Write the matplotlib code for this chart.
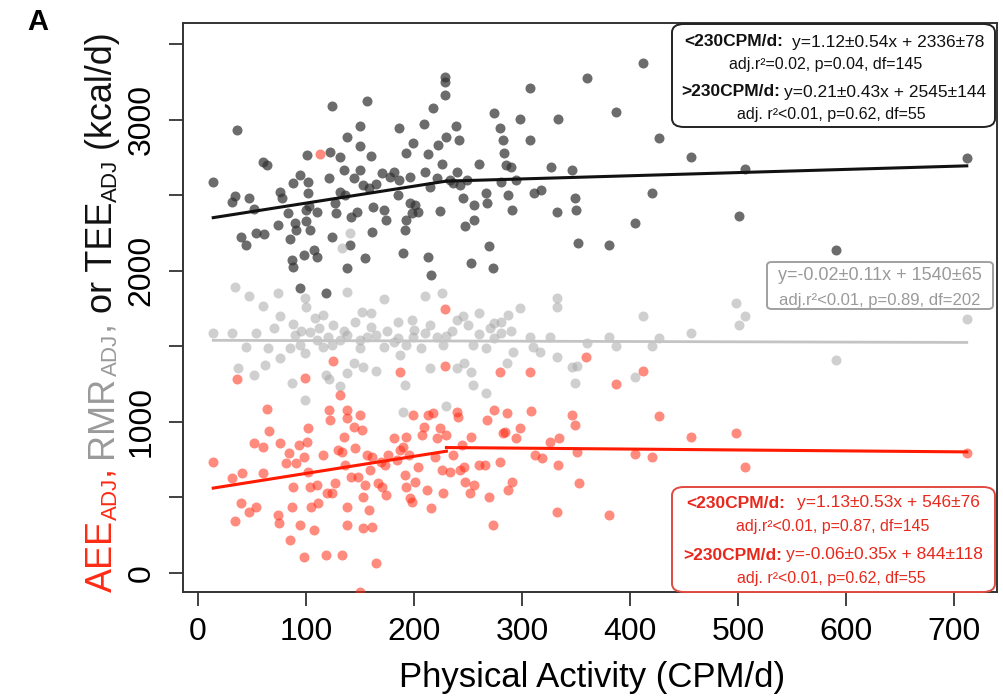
import matplotlib
matplotlib.use("Agg")
import matplotlib.pyplot as plt
from matplotlib.patches import FancyBboxPatch

plt.rcParams['font.family'] = ['Liberation Sans Narrow', 'Liberation Sans', 'DejaVu Sans']

# TEE (black), CPM/d vs kcal/d
tee_x = [14, 36, 31, 34, 47, 52, 40, 44, 54, 61, 60, 64, 76, 74, 78, 83, 85, 87, 88, 88,
         91, 90, 94, 94, 98, 100, 101, 102, 102, 103, 100, 104, 107, 110, 110, 118, 121, 124,
         124, 122, 127, 128, 131, 131, 135, 136, 138, 138, 141, 142, 144, 147, 150, 150, 150,
         153, 155, 156, 158, 160, 161, 162, 165, 170, 172, 174, 178, 181, 185, 186, 186, 190,
         192, 193, 193, 196, 196, 198, 199, 201, 204, 209, 210, 213, 213, 215, 216, 218, 221,
         222, 224, 226, 229, 229, 229, 230, 233, 236, 239, 240, 242, 243, 245, 247, 249, 253,
         256, 256, 260, 267, 268, 269, 273, 274, 280, 281, 282, 283, 285, 287, 290, 291, 294,
         298, 307, 307, 311, 318, 327, 332, 333, 346, 349, 350, 352, 360, 412, 387, 427, 457,
         507, 420, 501, 405, 381, 591, 712]
tee_y = [2586, 2932, 2453, 2497, 2484, 2407, 2226, 2171, 2252, 2244, 2722, 2700, 2524, 2303,
         2480, 2385, 2208, 2071, 2023, 2579, 2270, 2314, 2634, 1888, 2105, 2332, 2766, 2590,
         2513, 2429, 2402, 2270, 2138, 2094, 2391, 1851, 2616, 3091, 2226, 2788, 2446, 2380,
         2755, 2524, 2667, 2502, 2888, 2021, 2171, 2358, 2612, 2391, 2667, 2961, 2828, 2568,
         2083, 3126, 2546, 2760, 2259, 2424, 2574, 2645, 2402, 2336, 2623, 2656, 2502, 2601,
         2947, 2116, 2270, 2782, 2336, 2623, 2446, 2380, 2844, 2435, 2391, 2971, 2656, 2773,
         2094, 2557, 1972, 3075, 2612, 2833, 2396, 2707, 3252, 3163, 3285, 2888, 2601, 2579,
         2958, 2656, 2866, 2568, 2480, 2296, 2601, 2054, 2336, 2435, 2707, 2517, 2446, 2164,
         2016, 3047, 2943, 2590, 2866, 2777, 2700, 2502, 2689, 2402, 2601, 3002, 2866, 3207,
         2513, 2535, 2689, 2391, 3002, 2667, 2480, 2402, 2182, 3274, 3377, 3053, 2881, 2755,
         2671, 2517, 2363, 2314, 2171, 2138, 2749]

# RMR (grey)
rmr_x = [34, 47, 60, 74, 76, 99, 100, 116, 133, 141, 138, 152, 160, 172, 198, 210, 226, 240,
         250, 260, 274, 281, 287, 298, 332, 332, 14, 31, 44, 54, 65, 76, 85, 90, 94, 99, 104,
         110, 116, 124, 131, 138, 144, 150, 156, 165, 172, 181, 187, 193, 199, 206, 215, 221,
         227, 230, 240, 246, 253, 255, 267, 274, 281, 286, 292, 307, 310, 317, 326, 332, 346,
         351, 349, 37, 52, 62, 87, 99, 118, 121, 131, 138, 153, 165, 192, 230, 255, 267, 190,
         498, 507, 501, 412, 381, 387, 427, 420, 457, 591, 712, 360, 405,
         70, 88, 95, 108, 112, 125, 135, 145, 160, 175, 185, 200, 215, 235, 245, 260, 270,
         290, 120, 150, 185, 210]
rmr_y = [1895, 1833, 1767, 1851, 1701, 1818, 1763, 1707, 2149, 2248, 1862, 1730, 1718, 1811,
         1674, 1833, 1851, 1674, 1641, 1723, 1657, 1663, 1707, 1752, 1818, 1763, 1590, 1586,
         1498, 1586, 1487, 1421, 1487, 1575, 1509, 1454, 1597, 1542, 1498, 1509, 1542, 1575,
         1388, 1487, 1564, 1575, 1498, 1531, 1443, 1509, 1564, 1487, 1355, 1564, 1509, 1570,
         1355, 1388, 1332, 1509, 1487, 1553, 1586, 1388, 1465, 1564, 1498, 1465, 1564, 1432,
         1366, 1370, 1255, 1355, 1310, 1377, 1255, 1145, 1310, 1282, 1238, 1321, 1361, 1337,
         1244, 1105, 1244, 1189, 1068, 1789, 1701, 1641, 1701, 1564, 1502, 1557, 1502, 1588,
         1410, 1681, 1522, 1297,
         1620, 1650, 1600, 1690, 1620, 1640, 1600, 1660, 1630, 1600, 1660, 1610, 1640, 1600,
         1700, 1580, 1620, 1600, 1560, 1540, 1555, 1590]

# AEE (red)
aee_x = [14, 31, 41, 34, 36, 40, 47, 54, 52, 60, 60, 64, 66, 74, 75, 76, 81, 84, 85, 87,
         88, 91, 93, 94, 98, 98, 99, 101, 102, 102, 104, 105, 107, 110, 111, 116, 118, 119,
         121, 122, 124, 125, 127, 130, 131, 133, 133, 135, 136, 138, 138, 138, 138, 142, 144,
         145, 148, 150, 152, 153, 153, 155, 156, 158, 159, 161, 161, 165, 167, 169, 170, 173,
         174, 176, 181, 184, 187, 187, 190, 192, 193, 193, 195, 196, 198, 199, 201, 204, 207,
         209, 212, 213, 216, 218, 219, 221, 224, 226, 227, 229, 230, 233, 236, 240, 241, 243,
         244, 246, 247, 252, 253, 256, 260, 266, 268, 269, 273, 274, 280, 280, 282, 284, 286,
         287, 291, 294, 298, 307, 308, 312, 319, 326, 332, 333, 334, 346, 349, 351, 353, 359,
         150, 387, 412, 427, 457, 498, 507, 405, 420, 381, 591, 712, 113, 229]
aee_y = [732, 626, 660, 346, 1282, 461, 406, 439, 858, 836, 660, 1085, 942, 384, 333, 858,
         726, 792, 218, 439, 571, 726, 847, 318, 108, 770, 1288, 869, 958, 671, 571, 439, 285,
         580, 461, 781, 119, 527, 1079, 1013, 527, 1405, 593, 814, 1178, 803, 119, 902, 715,
         1079, 1024, 439, 318, 637, 968, 825, 637, 1046, 946, 505, 296, 582, 781, 417, 682,
         307, 770, 64, 593, 737, 571, 715, 516, 781, 891, 748, 1332, 814, 836, 649, 902, 571,
         781, 494, 472, 1046, 604, 704, 913, 968, 549, 1046, 428, 1057, 770, 891, 958, 682,
         527, 1370, 913, 671, 781, 1068, 1035, 682, 847, 704, 604, 527, 902, 582, 715, 715,
         1013, 505, 318, 1079, 1332, 737, 924, 930, 1061, 549, 604, 891, 958, 1332, 1072, 781,
         759, 869, 406, 715, 891, 1046, 979, 803, 593, 1432, -124, 1251, 1339, 1039, 900, 929,
         702, 788, 768, 384, 529, 794, 2773, 1745]

# piecewise fits, split at 230 CPM/d: (slope, intercept) below and above
breakpoint = 230
tee_fit = [(1.12, 2336), (0.21, 2545)]
rmr_fit = [(-0.02, 1540)]
aee_fit = [(1.13, 546), (-0.06, 844)]

W, H = 1004, 698


def fpos(px, py):
    return px / W, 1 - py / H


fig = plt.figure(figsize=(W / 100, H / 100), dpi=100)
ax = fig.add_axes([183 / W, 1 - 592 / H, (997 - 183) / W, (592 - 23) / H])

ax.scatter(tee_x, tee_y, s=52, color='#333333', alpha=0.72, linewidths=0, zorder=2)
ax.scatter(rmr_x, rmr_y, s=52, color='#a8a8a8', alpha=0.55, linewidths=0, zorder=3)
ax.scatter(aee_x, aee_y, s=52, color='#ff2a14', alpha=0.55, linewidths=0, zorder=4)


def draw_fit(xs, fit, color, lw):
    lo, hi = min(xs), max(xs)
    if len(fit) == 1:
        m, b = fit[0]
        ax.plot([lo, hi], [m * lo + b, m * hi + b], color=color, lw=lw, zorder=5)
        return
    (m1, b1), (m2, b2) = fit
    ax.plot([lo, breakpoint], [m1 * lo + b1, m1 * breakpoint + b1], color=color, lw=lw, zorder=5)
    ax.plot([breakpoint, hi], [m2 * breakpoint + b2, m2 * hi + b2], color=color, lw=lw, zorder=5)


draw_fit(tee_x, tee_fit, '#111111', 2.2)
draw_fit(rmr_x, rmr_fit, '#c4c4c4', 2.0)
draw_fit(aee_x, aee_fit, '#ff1a00', 2.2)

ax.set_xlim(-14, 740)
ax.set_ylim(-126, 3640)
ax.set_xticks(range(0, 800, 100))
ax.set_yticks(range(0, 3600, 500))
ax.set_yticklabels(['0', '', '1000', '', '2000', '', '3000', ''], rotation=90, va='center')
ax.tick_params(direction='out', length=10, width=1.3, color='#333333', labelsize=23, pad=8)
ax.tick_params(axis='y', pad=9)
for sp in ax.spines.values():
    sp.set_linewidth(1.4)
    sp.set_color('#333333')

fig.text(*fpos(592, 678), 'Physical Activity (CPM/d)', ha='center', va='center', fontsize=25)
fig.text(*fpos(38, 22), 'A', ha='center', va='center', fontsize=21, fontweight='bold',
         family=['Liberation Sans', 'DejaVu Sans'])

fig.canvas.draw()
renderer = fig.canvas.get_renderer()

# multicoloured y label, built piece by piece along the rotated baseline
pieces = [('AEE', '#ff2a14', False), ('ADJ', '#ff2a14', True), (', ', '#ff2a14', False),
          ('RMR', '#9a9a9a', False), ('ADJ', '#9a9a9a', True), (', ', '#9a9a9a', False),
          ('or TEE', '#111111', False), ('ADJ', '#111111', True), (' (kcal/d)', '#111111', False)]


def place_ylabel(size, base_x, start_y):
    cur = start_y
    made = []
    for s, c, sub in pieces:
        fs = size * 0.62 if sub else size
        x = base_x + (size * 0.2 if sub else 0)
        t = fig.text(x / W, cur / H, s, rotation=90, rotation_mode='anchor', ha='left',
                     va='baseline', color=c, fontsize=fs)
        cur += t.get_window_extent(renderer).height
        made.append(t)
    return made, cur - start_y


trial, length = place_ylabel(28, 112, H - 592)
for t in trial:
    t.remove()
place_ylabel(28 * 560 / length, 112, H - 592)


def box(x0, y0, x1, y1, ec, pad):
    p = FancyBboxPatch(fpos(x0, y1), (x1 - x0) / W, (y1 - y0) / H,
                       boxstyle=f'round,pad=0,rounding_size={pad}', transform=fig.transFigure,
                       facecolor='white', edgecolor=ec, linewidth=1.4, zorder=10)
    fig.add_artist(p)


def two_part(cx, py, bold, rest, color, size, gap=7):
    a = fig.text(0, 0, bold, ha='left', va='center', fontsize=size, fontweight='bold',
                 color=color, zorder=11)
    b = fig.text(0, 0, rest, ha='left', va='center', fontsize=size, color=color, zorder=11)
    wa = a.get_window_extent(renderer).width
    wb = b.get_window_extent(renderer).width
    x0 = cx - (wa + gap + wb) / 2
    a.set_position(fpos(x0, py))
    b.set_position(fpos(x0 + wa + gap, py))


def centered(cx, py, s, color, size):
    fig.text(*fpos(cx, py), s, ha='center', va='center', fontsize=size, color=color, zorder=11)


# TEE fit box
box(672, 24, 995, 127, '#222222', 0.012)
two_part(834, 42, '<230CPM/d:', 'y=1.12±0.54x + 2336±78', '#111111', 12.5, gap=9)
centered(826, 64, 'adj.r²=0.02, p=0.04, df=145', '#111111', 11.5)
two_part(834, 92, '>230CPM/d:', 'y=0.21±0.43x + 2545±144', '#111111', 12.5, gap=4)
centered(831, 115, 'adj. r²<0.01, p=0.62, df=55', '#111111', 11.5)

# RMR fit box
box(767, 262, 993, 309, '#a0a0a0', 0.005)
centered(880, 276, 'y=-0.02±0.11x + 1540±65', '#9a9a9a', 13)
centered(880, 300, 'adj.r²<0.01, p=0.89, df=202', '#9a9a9a', 12)

# AEE fit box
box(672, 487, 995, 592, '#e04a40', 0.012)
two_part(833, 503, '<230CPM/d:', 'y=1.13±0.53x + 546±76', '#e8281c', 12.5, gap=12)
centered(833, 526, 'adj.r²<0.01, p=0.87, df=145', '#e8281c', 11.5)
two_part(833, 555, '>230CPM/d:', 'y=-0.06±0.35x + 844±118', '#e8281c', 12.5, gap=4)
centered(831, 578, 'adj. r²<0.01, p=0.62, df=55', '#e8281c', 11.5)

fig.savefig('out.png', dpi=100, facecolor='white')
